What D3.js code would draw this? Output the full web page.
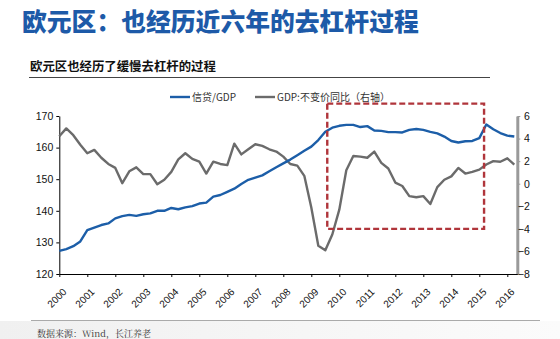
<!DOCTYPE html>
<html><head><meta charset="utf-8">
<script src="https://cdn.jsdelivr.net/npm/d3@7/dist/d3.min.js"></script>
<style>
html,body{margin:0;padding:0;background:#fff;}
svg{display:block;font-family:"Liberation Sans",Arial,sans-serif;}
</style></head>
<body>
<svg id="c" width="560" height="339"></svg>
<script>
// ---- data (quarterly, 2000Q1 .. 2016Q2) ----
const startYear = 2000;
const creditGDP = [127.3,127.9,128.8,130.3,133.9,134.7,135.5,136.0,137.6,138.3,138.7,138.4,138.9,139.2,140.0,140.0,
  140.9,140.5,141.1,141.5,142.3,142.6,144.5,145.0,146.0,147.0,148.5,149.8,150.5,151.2,152.5,153.8,
  155.0,156.2,157.6,159.0,160.3,162.4,165.0,166.3,166.9,167.2,167.2,166.5,166.8,165.4,165.3,164.9,
  164.9,164.8,165.6,165.9,165.6,165.0,164.5,163.5,162.1,161.6,162.0,162.1,163.0,167.3,165.8,164.6,163.8,163.5];
const gdpYoY = [4.2,4.9,4.3,3.45,2.7,3.0,2.3,1.75,1.4,0.05,1.1,1.45,0.85,0.85,-0.05,0.35,
  1.05,2.15,2.7,2.2,1.95,0.9,1.95,1.75,1.65,3.55,2.6,3.05,3.5,3.35,3.05,2.85,
  2.4,1.75,1.6,0.7,-2.1,-5.5,-5.9,-4.5,-2.3,1.2,2.45,2.4,2.3,2.85,1.85,1.35,
  0.1,-0.2,-1.1,-1.2,-1.1,-1.8,-0.3,0.35,0.65,1.4,0.9,1.05,1.25,1.7,2.0,1.95,2.25,1.7];
const yearTicks = d3.range(2000, 2017);
const leftTicks = [120,130,140,150,160,170];
const rightTicks = [-8,-6,-4,-2,0,2,4,6];
const seriesNames = ["信贷/GDP", "GDP:不变价同比（右轴）"];
const highlightX = [2009.57, 2015.17];
const highlightY = [7.1, -4];
const title = "欧元区：也经历近六年的去杠杆过程";
const subtitle = "欧元区也经历了缓慢去杠杆的过程";
const source = "数据来源：Wind，长江养老";

const qx = i => startYear + i / 4;

const svg = d3.select("#c");
const cjk = '"Noto Sans CJK SC","Noto Sans",sans-serif';

// background footer tint
const defs = svg.append("defs");
const g1 = defs.append("linearGradient").attr("id","ft").attr("x1",0).attr("x2",1).attr("y1",0).attr("y2",0);
g1.append("stop").attr("offset","0%").attr("stop-color","#f0f0f0");
g1.append("stop").attr("offset","100%").attr("stop-color","#fbfbfb");
svg.append("rect").attr("x",0).attr("y",321).attr("width",560).attr("height",18).attr("fill","url(#ft)");

// titles
svg.append("text").attr("x",22).attr("y",31).text(title)
  .attr("font-family",cjk).attr("font-weight",900).attr("font-size",24.8).attr("fill","#1d5aa8");
svg.append("text").attr("x",30).attr("y",70.5).text(subtitle)
  .attr("font-family",cjk).attr("font-weight",700).attr("font-size",12.4).attr("fill","#111");
svg.append("line").attr("x1",29).attr("x2",490).attr("y1",77.5).attr("y2",77.5)
  .attr("stroke","#444").attr("stroke-width",1);

// scales
const x = d3.scaleLinear().domain([2000, 2016.357]).range([59.3, 517.3]);
const yL = d3.scaleLinear().domain([120,170]).range([274,116]);
const yR = d3.scaleLinear().domain([-8,6]).range([274,116]);

// axes
const axL = svg.append("g").attr("transform","translate(59.3,0)")
  .call(d3.axisLeft(yL).tickValues(leftTicks).tickSize(3).tickSizeOuter(0).tickPadding(3));
axL.selectAll("text").attr("font-size",10.5).attr("fill","#111").attr("font-family","Liberation Sans, Arial, sans-serif");
axL.selectAll("line,path").attr("stroke","#000");

const axR = svg.append("g").attr("transform","translate(517.3,0)")
  .call(d3.axisRight(yR).tickValues(rightTicks).tickSize(3).tickSizeOuter(0));
axR.select(".domain").attr("stroke","#9a9a9a").attr("stroke-width",3);
axR.selectAll(".tick line").attr("stroke","#9a9a9a");
axR.selectAll("text").attr("text-anchor","end").attr("x",12.5)
  .attr("font-size",10.5).attr("fill","#111").attr("font-family","Liberation Sans, Arial, sans-serif");

const axB = svg.append("g").attr("transform","translate(0,274)")
  .call(d3.axisBottom(x).tickValues(yearTicks).tickFormat(d3.format("d")).tickSize(3).tickSizeOuter(0));
axB.selectAll("line,path").attr("stroke","#000");
axB.selectAll("text")
  .attr("font-size",10).attr("fill","#111").attr("font-family","Liberation Sans, Arial, sans-serif")
  .attr("text-anchor","end").attr("y",0).attr("dy","0.35em")
  .attr("transform","translate(5,16) rotate(-45)");

// lines
const lineL = d3.line().x((d,i)=>x(qx(i))).y(d=>yL(d));
const lineR = d3.line().x((d,i)=>x(qx(i))).y(d=>yR(d));
svg.append("path").datum(gdpYoY).attr("d",lineR).attr("fill","none")
  .attr("stroke","#6b6b6b").attr("stroke-width",2.4).attr("stroke-linejoin","round");
svg.append("path").datum(creditGDP).attr("d",lineL).attr("fill","none")
  .attr("stroke","#1c5ea8").attr("stroke-width",2.4).attr("stroke-linejoin","round");

// highlight box
svg.append("rect")
  .attr("x",x(highlightX[0])).attr("y",yR(highlightY[0]))
  .attr("width",x(highlightX[1])-x(highlightX[0])).attr("height",yR(highlightY[1])-yR(highlightY[0]))
  .attr("fill","none").attr("stroke","#b0353b").attr("stroke-width",2.4).attr("stroke-dasharray","6,3");

// legend
const leg = [{n:seriesNames[0],c:"#1c5ea8",x:170},{n:seriesNames[1],c:"#6b6b6b",x:255}];
leg.forEach(l=>{
  svg.append("line").attr("x1",l.x).attr("x2",l.x+20).attr("y1",97).attr("y2",97)
    .attr("stroke",l.c).attr("stroke-width",2.4);
  svg.append("text").attr("x",l.x+22).attr("y",100.5).text(l.n)
    .attr("font-family",cjk).attr("font-size",10).attr("fill","#333");
});

// footer
svg.append("line").attr("x1",31).attr("x2",540).attr("y1",320.5).attr("y2",320.5)
  .attr("stroke","#aaa").attr("stroke-width",1);
svg.append("text").attr("x",37).attr("y",337).text(source)
  .attr("font-family",'"Noto Serif CJK SC","Noto Sans CJK SC",serif').attr("font-size",9).attr("fill","#333");
</script>
</body></html>
